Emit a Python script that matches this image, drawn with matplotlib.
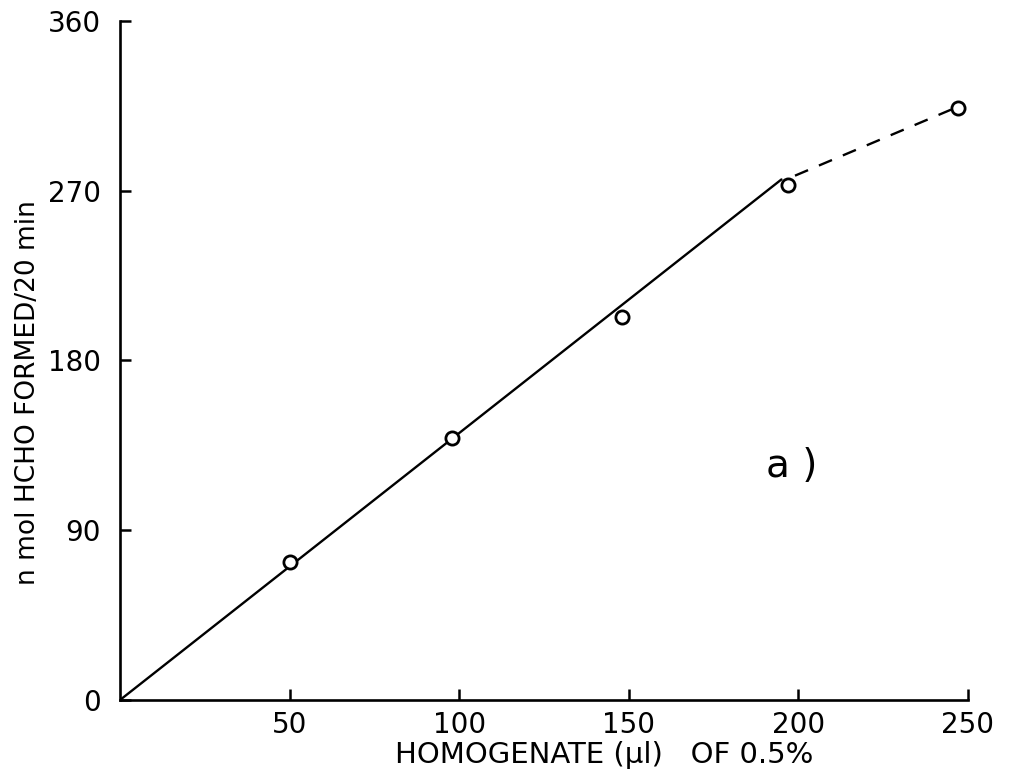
import matplotlib
matplotlib.use("Agg")
import matplotlib.pyplot as plt
from matplotlib import font_manager

# Data
homogenate_ul = [50, 98, 148, 197, 247]
hcho_nmol = [73, 139, 203, 273, 314]
fit_solid_x = [0, 195]
fit_solid_y = [0, 276]
fit_dashed_x = [199, 245]
fit_dashed_y = [278, 313]
x_ticks = [50, 100, 150, 200, 250]
y_ticks = [0, 90, 180, 270, 360]

names = {f.name for f in font_manager.fontManager.ttflist}
fam = ["Liberation Sans Narrow", "DejaVu Sans"] if "Liberation Sans Narrow" in names else ["DejaVu Sans"]
plt.rcParams["font.family"] = fam

fig = plt.figure(figsize=(10.09, 7.78), dpi=100)
ax = fig.add_axes([120/1009, 1 - 700/778, 848/1009, 679/778])

ax.plot(fit_solid_x, fit_solid_y, color="black", lw=1.7, solid_capstyle="round")
ax.plot(fit_dashed_x, fit_dashed_y, color="black", lw=1.7, linestyle=(0, (6, 5)))
ax.plot(homogenate_ul, hcho_nmol, linestyle="none", marker="o", ms=9.5,
        mfc="white", mec="black", mew=2.0, zorder=3)

ax.set_xlim(0, 250)
ax.set_ylim(0, 360)
ax.set_xticks(x_ticks)
ax.set_yticks(y_ticks)
ax.spines["top"].set_visible(False)
ax.spines["right"].set_visible(False)
for s in ("left", "bottom"):
    ax.spines[s].set_linewidth(1.9)
ax.tick_params(direction="in", length=8, width=1.8, labelsize=20, pad=8, color="black")
ax.tick_params(axis="y", pad=14)

fig.text(28/1009, 1 - 393/778, "n mol HCHO FORMED/20 min", rotation=90,
         ha="center", va="center", fontsize=19)
fig.text(604/1009, 1 - 755/778, "HOMOGENATE (\u00b5l)   OF 0.5%",
         ha="center", va="center", fontsize=21)
ax.text(198, 124, "a )", fontsize=28, ha="center", va="center")

fig.savefig("out.png", dpi=100)
